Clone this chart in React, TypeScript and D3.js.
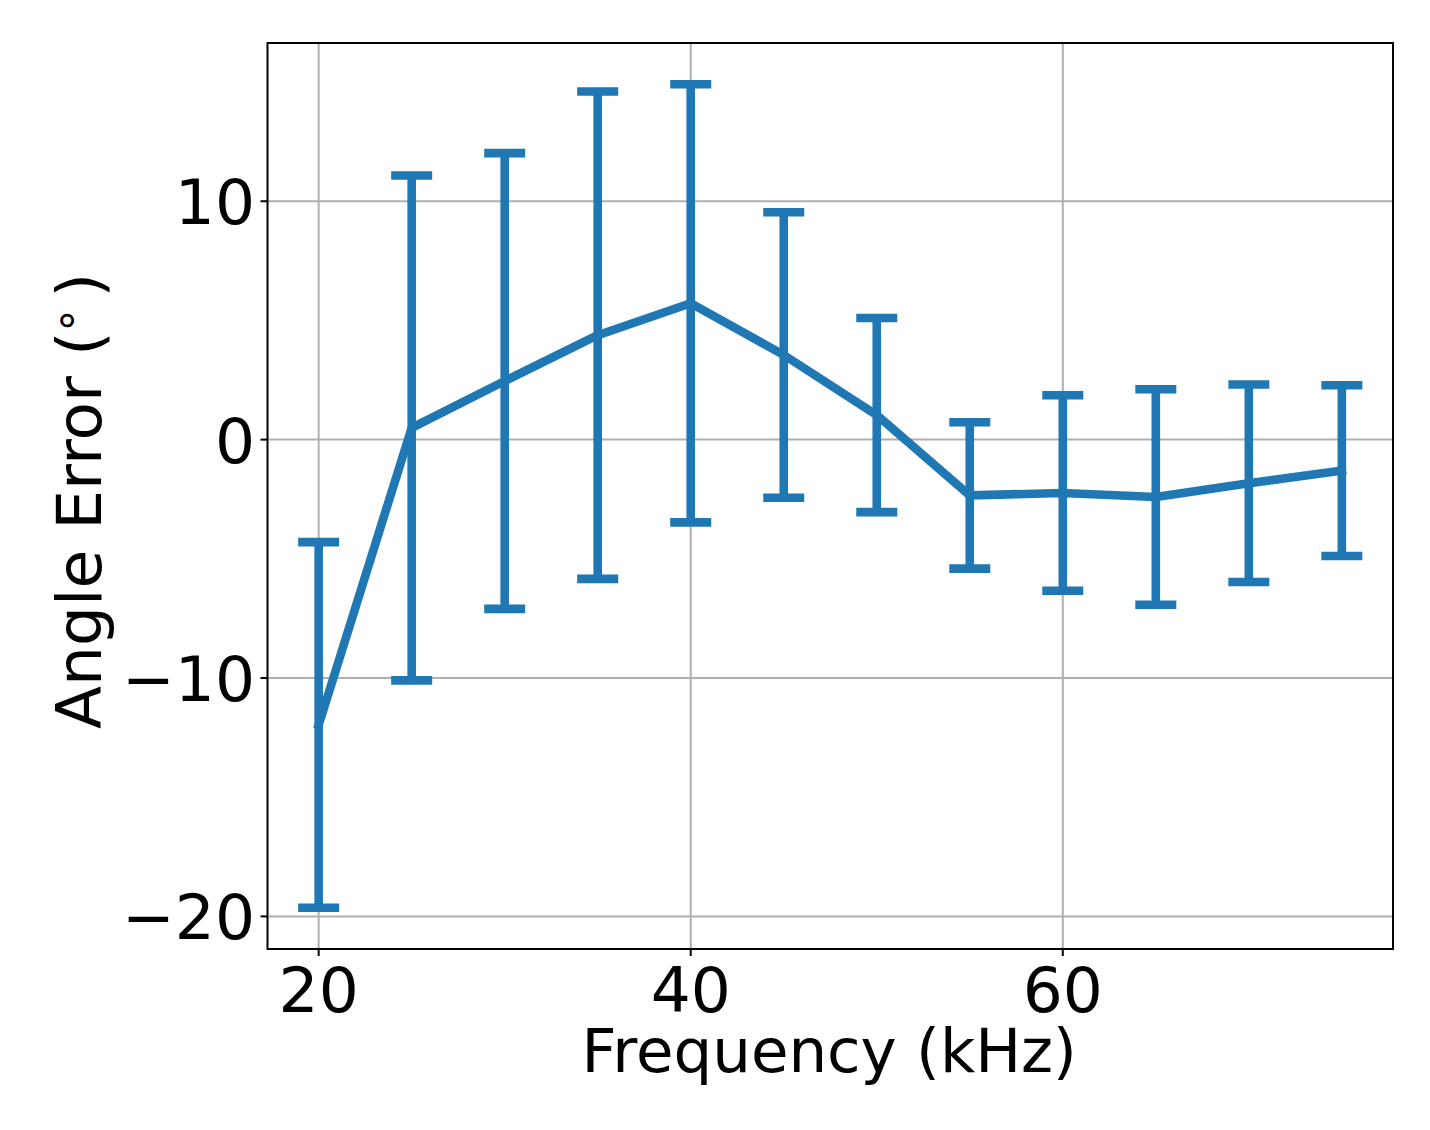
import React from "react";
import * as d3 from "d3";

const frequencies = [20, 25, 30, 35, 40, 45, 50, 55, 60, 65, 70, 75];
const meanError = [-11.97, 0.49, 2.46, 4.38, 5.72, 3.55, 1.03, -2.34, -2.24, -2.41, -1.83, -1.3];
const stdError = [7.67, 10.59, 9.56, 10.22, 9.19, 5.99, 4.07, 3.07, 4.1, 4.52, 4.14, 3.58];
const xTicks = [20, 40, 60];
const yTicks = [-20, -10, 0, 10];

const W = 1430;
const H = 1130;
const M = { left: 267.5, right: 1393, top: 43, bottom: 949 };
const COLOR = "#1f77b4";
const FONT = "DejaVu Sans, Liberation Sans, sans-serif";

export default function App() {
  const lows = meanError.map((m, i) => m - stdError[i]);
  const highs = meanError.map((m, i) => m + stdError[i]);
  const xMin = d3.min(frequencies)!;
  const xMax = d3.max(frequencies)!;
  const yMin = d3.min(lows)!;
  const yMax = d3.max(highs)!;
  const xPad = (xMax - xMin) * 0.05;
  const yPad = (yMax - yMin) * 0.05;

  const x = d3.scaleLinear().domain([xMin - xPad, xMax + xPad]).range([M.left, M.right]);
  const y = d3.scaleLinear().domain([yMin - yPad, yMax + yPad]).range([M.bottom, M.top]);

  const line = d3
    .line<number>()
    .x((_, i) => x(frequencies[i]))
    .y((d) => y(d));

  const fmt = (v: number) => (v < 0 ? "\u2212" + Math.abs(v) : String(v));
  const capHalf = 20.5;
  const lw = 8.6;

  return (
    <svg
      width={W}
      height={H}
      style={{ position: "absolute", left: 0, top: 0, background: "#fff" }}
      fontFamily={FONT}
    >
      <rect x={0} y={0} width={W} height={H} fill="#fff" />
      <defs>
        <clipPath id="plotclip">
          <rect x={M.left} y={M.top} width={M.right - M.left} height={M.bottom - M.top} />
        </clipPath>
      </defs>
      {/* grid */}
      <g stroke="#b0b0b0" strokeWidth={2}>
        {xTicks.map((t) => (
          <line key={"gx" + t} x1={x(t)} x2={x(t)} y1={M.top} y2={M.bottom} />
        ))}
        {yTicks.map((t) => (
          <line key={"gy" + t} x1={M.left} x2={M.right} y1={y(t)} y2={y(t)} />
        ))}
      </g>
      {/* error bars */}
      <g clipPath="url(#plotclip)">
        {frequencies.map((f, i) => (
          <g key={"eb" + f} stroke={COLOR} strokeWidth={lw}>
            <line x1={x(f)} x2={x(f)} y1={y(lows[i])} y2={y(highs[i])} />
            <line x1={x(f) - capHalf} x2={x(f) + capHalf} y1={y(lows[i])} y2={y(lows[i])} />
            <line x1={x(f) - capHalf} x2={x(f) + capHalf} y1={y(highs[i])} y2={y(highs[i])} />
          </g>
        ))}
        <path
          d={line(meanError) || ""}
          fill="none"
          stroke={COLOR}
          strokeWidth={lw}
          strokeLinejoin="round"
          strokeLinecap="square"
        />
      </g>
      {/* spines */}
      <rect
        x={M.left}
        y={M.top}
        width={M.right - M.left}
        height={M.bottom - M.top}
        fill="none"
        stroke="#000"
        strokeWidth={2}
      />
      {/* x ticks */}
      {xTicks.map((t) => (
        <g key={"xt" + t}>
          <line x1={x(t)} x2={x(t)} y1={M.bottom} y2={M.bottom + 7} stroke="#000" strokeWidth={2} />
          <text x={x(t)} y={M.bottom + 62.5} textAnchor="middle" fontSize={63} fill="#000">
            {fmt(t)}
          </text>
        </g>
      ))}
      {/* y ticks */}
      {yTicks.map((t) => (
        <g key={"yt" + t}>
          <line x1={M.left - 7} x2={M.left} y1={y(t)} y2={y(t)} stroke="#000" strokeWidth={2} />
          <text x={M.left - 12.5} y={y(t) + 23} textAnchor="end" fontSize={63} fill="#000">
            {fmt(t)}
          </text>
        </g>
      ))}
      {/* axis labels */}
      <text x={(M.left + M.right) / 2 - 1} y={1071.5} textAnchor="middle" fontSize={61} fill="#000">
        Frequency (kHz)
      </text>
      <text
        transform={`translate(101, 729) rotate(-90)`}
        textAnchor="start"
        fontSize={63}
        fill="#000"
      >
        Angle Error (
        <tspan dx={0} dy={-8} fontSize={44}>
          {"\u00B0"}
        </tspan>
        <tspan dx={12} dy={8}>
          )
        </tspan>
      </text>
    </svg>
  );
}
